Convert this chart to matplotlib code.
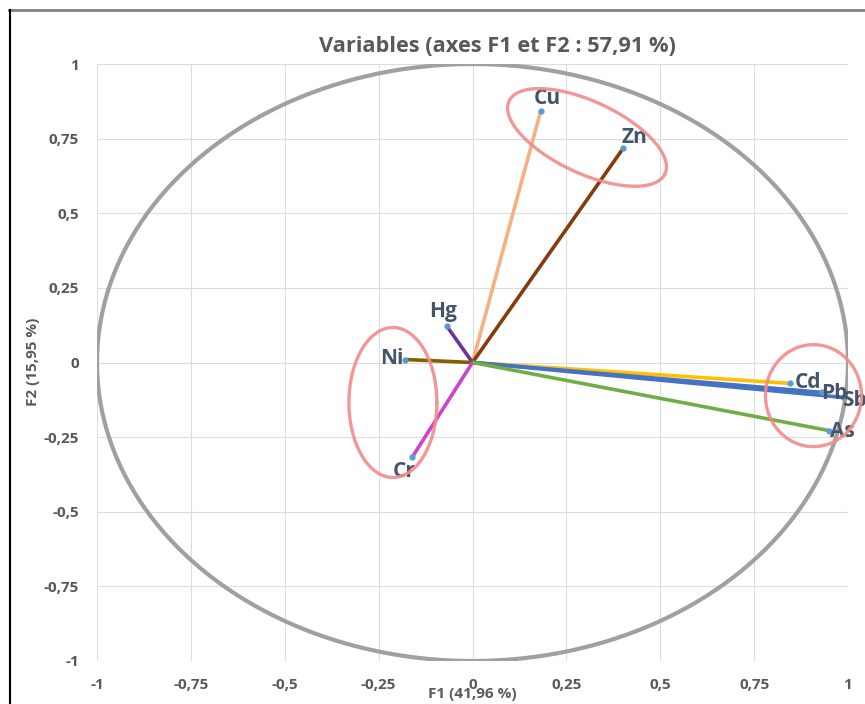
import numpy as np
import matplotlib
matplotlib.use("Agg")
import matplotlib.pyplot as plt
from matplotlib.lines import Line2D

# ---- data ----
variables = ["Cu", "Zn", "Hg", "Ni", "Cr", "Cd", "Pb", "Sb", "As"]
f1 = [0.182, 0.401, -0.068, -0.180, -0.161, 0.846, 0.930, 0.987, 0.949]
f2 = [0.844, 0.717, 0.121, 0.010, -0.318, -0.070, -0.100, -0.117, -0.228]
colors = ["#F4B183", "#843C0C", "#7030A0", "#806000", "#CC44CC",
          "#FFC000", "#4472C4", "#4472C4", "#70AD47"]
# label offsets in points
label_offsets = [(5, 9), (8, 8), (-3, 11), (-1, 1), (-6, -10),
                 (3, 1), (9, -1), (8, -2), (1, -1)]
label_ha = ["center", "center", "center", "right", "center",
            "left", "center", "center", "left"]
ticks = [-1, -0.75, -0.5, -0.25, 0, 0.25, 0.5, 0.75, 1]
tick_labels = ["-1", "-0,75", "-0,5", "-0,25", "0", "0,25", "0,5", "0,75", "1"]

# highlight ellipses: (center x, center y, semi-axis px a, semi-axis px b, angle deg)
groups = [(0.305, 0.754, 86, 36, -25),
          (-0.212, -0.134, 44, 75, 0),
          (0.908, -0.111, 48, 51, 0)]

W, H = 865, 704
fig = plt.figure(figsize=(W / 100, H / 100), dpi=100)
ax = fig.add_axes([97 / W, 1 - 661 / H, (848 - 97) / W, (661 - 64) / H])
ax.set_xlim(-1, 1)
ax.set_ylim(-1, 1)
px_x = (848 - 97) / 2.0
px_y = (661 - 64) / 2.0

font = "Open Sans"
ax.set_xticks(ticks)
ax.set_yticks(ticks)
ax.set_xticklabels(tick_labels, fontsize=11, fontweight="bold", color="#595959", family=font)
ax.set_yticklabels(tick_labels, fontsize=11, fontweight="bold", color="#595959", family=font)
ax.tick_params(length=0)
ax.tick_params(axis="x", pad=12)
ax.tick_params(axis="y", pad=13)
ax.grid(True, color="#DDDDDD", linewidth=0.8)
ax.set_axisbelow(True)
for s in ax.spines.values():
    s.set_visible(False)

# correlation circle
t = np.linspace(0, 2 * np.pi, 400)
ax.plot(np.cos(t), np.sin(t), color="#A0A0A0", linewidth=3, zorder=2)

# vectors
for name, x, y, c in zip(variables, f1, f2, colors):
    ax.plot([0, x], [0, y], color=c, linewidth=2.6, solid_capstyle="butt", zorder=3)
for name, x, y, c, off, ha in zip(variables, f1, f2, colors, label_offsets, label_ha):
    ax.plot([x], [y], "o", color="#5B9BD5", markersize=3.5, zorder=4)
    ax.annotate(name, (x, y), xytext=off, textcoords="offset points",
                ha=ha, va="center", fontsize=15, fontweight="bold",
                color="#44546A", family=font, annotation_clip=False, zorder=5)

# highlight ellipses
for cx, cy, a, b, ang in groups:
    th = np.radians(ang)
    ex = a * np.cos(t) * np.cos(th) - b * np.sin(t) * np.sin(th)
    ey = a * np.cos(t) * np.sin(th) + b * np.sin(t) * np.cos(th)
    ax.plot(cx + ex / px_x, cy + ey / px_y, color="#F08C8C", linewidth=2.4,
            alpha=0.9, zorder=6, clip_on=False)

fig.text(497 / W, 1 - 47 / H, "Variables (axes F1 et F2 : 57,91 %)", ha="center",
         va="center", fontsize=15.7, fontweight="bold", color="#595959", family=font)
fig.text(472 / W, 1 - 694 / H, "F1 (41,96 %)", ha="center", va="center",
         fontsize=11, fontweight="bold", color="#595959", family=font)
fig.text(33 / W, 1 - 362 / H, "F2 (15,95 %)", ha="center", va="center", rotation=90,
         fontsize=11, fontweight="bold", color="#595959", family=font)

# outer frame
fig.add_artist(Line2D([9 / W, 1], [1 - 10 / H, 1 - 10 / H], color="#808080", linewidth=2))
fig.add_artist(Line2D([10 / W, 10 / W], [0, 1 - 10 / H], color="#000000", linewidth=1.5))

fig.savefig("out.png", dpi=100)
